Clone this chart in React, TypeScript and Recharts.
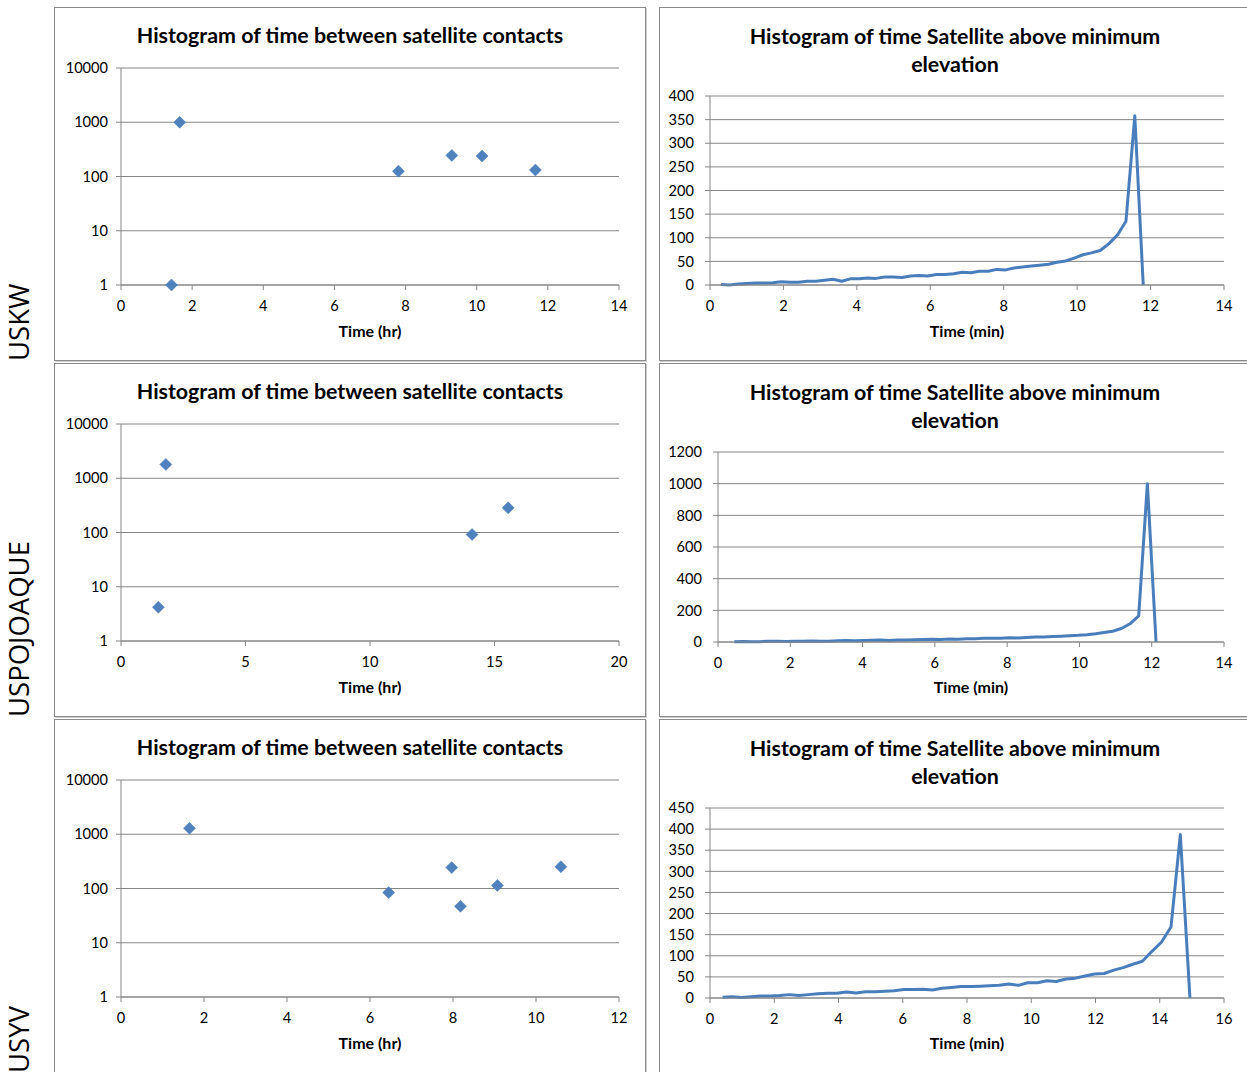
import React from 'react';
import { ScatterChart, Scatter, LineChart, Line, XAxis, YAxis, CartesianGrid } from 'recharts';

// ---------- data ----------
const stations = ['USKW', 'USPOJOAQUE', 'USYV'];

const uskwGapHr = [1.42, 1.65, 7.8, 9.3, 10.15, 11.65];
const uskwGapCount = [1, 1000, 125, 245, 238, 132];

const uspGapHr = [1.5, 1.8, 14.1, 15.55];
const uspGapCount = [4.2, 1800, 92, 285];

const usyvGapHr = [1.65, 6.45, 7.97, 8.18, 9.07, 10.6];
const usyvGapCount = [1290, 84, 243, 47, 114, 252];

const uskwElevMin = [0.30, 0.53, 0.77, 1.00, 1.24, 1.47, 1.71, 1.94, 2.18, 2.41, 2.65, 2.88, 3.12, 3.35, 3.59, 3.82, 4.06, 4.29, 4.52, 4.76, 4.99, 5.23, 5.46, 5.70, 5.93, 6.17, 6.40, 6.64, 6.87, 7.11, 7.34, 7.58, 7.81, 8.05, 8.28, 8.51, 8.75, 8.98, 9.22, 9.45, 9.69, 9.92, 10.16, 10.39, 10.63, 10.86, 11.10, 11.33, 11.57, 11.80];
const uskwElevCount = [1, 0, 2, 3, 4, 4, 5, 7, 6, 6, 8, 8, 10, 12, 8, 13, 13, 15, 14, 17, 17, 16, 19, 20, 19, 22, 22, 24, 27, 26, 29, 29, 33, 32, 36, 38, 40, 42, 44, 48, 51, 57, 64, 68, 73, 87, 106, 135, 358, 0];

const uspElevMin = [0.45, 0.69, 0.93, 1.16, 1.40, 1.64, 1.88, 2.12, 2.35, 2.59, 2.83, 3.07, 3.31, 3.54, 3.78, 4.02, 4.26, 4.50, 4.73, 4.97, 5.21, 5.45, 5.69, 5.92, 6.16, 6.40, 6.64, 6.88, 7.11, 7.35, 7.59, 7.83, 8.07, 8.30, 8.54, 8.78, 9.02, 9.26, 9.49, 9.73, 9.97, 10.21, 10.45, 10.68, 10.92, 11.16, 11.40, 11.64, 11.88, 12.12];
const uspElevCount = [2, 3, 1, 2, 4, 5, 3, 4, 5, 6, 5, 5, 8, 10, 8, 9, 11, 12, 10, 12, 12, 14, 16, 17, 16, 19, 18, 21, 20, 23, 24, 23, 27, 26, 28, 31, 32, 35, 37, 40, 42, 46, 52, 60, 68, 85, 115, 165, 1000, 0];

const usyvElevMin = [0.39, 0.69, 0.98, 1.28, 1.58, 1.87, 2.17, 2.47, 2.77, 3.06, 3.36, 3.66, 3.95, 4.25, 4.55, 4.84, 5.14, 5.44, 5.74, 6.03, 6.33, 6.63, 6.92, 7.22, 7.52, 7.81, 8.11, 8.41, 8.70, 9.00, 9.30, 9.60, 9.89, 10.19, 10.49, 10.78, 11.08, 11.38, 11.67, 11.97, 12.27, 12.57, 12.86, 13.16, 13.46, 13.75, 14.05, 14.35, 14.64, 14.94];
const usyvElevCount = [2, 3, 1, 3, 5, 5, 6, 8, 6, 8, 10, 11, 11, 14, 12, 15, 15, 16, 17, 20, 20, 21, 19, 23, 25, 27, 27, 28, 29, 30, 33, 30, 36, 36, 41, 39, 45, 47, 52, 57, 58, 66, 72, 80, 87, 110, 132, 168, 387, 0];

const logTicks = [1, 10, 100, 1000, 10000];
const gapXTicks = [
  [0, 2, 4, 6, 8, 10, 12, 14],
  [0, 5, 10, 15, 20],
  [0, 2, 4, 6, 8, 10, 12],
];
const elevXTicks = [
  [0, 2, 4, 6, 8, 10, 12, 14],
  [0, 2, 4, 6, 8, 10, 12, 14],
  [0, 2, 4, 6, 8, 10, 12, 14, 16],
];
const elevYTicks = [
  [0, 50, 100, 150, 200, 250, 300, 350, 400],
  [0, 200, 400, 600, 800, 1000, 1200],
  [0, 50, 100, 150, 200, 250, 300, 350, 400, 450],
];

const gapTitle = 'Histogram of time between satellite contacts';
const elevTitle1 = 'Histogram of time Satellite above minimum';
const elevTitle2 = 'elevation';
const gapAxisTitle = 'Time (hr)';
const elevAxisTitle = 'Time (min)';

const zip = (xs: number[], ys: number[]) => xs.map((x, i) => ({ x, y: ys[i] }));
const gapData = [zip(uskwGapHr, uskwGapCount), zip(uspGapHr, uspGapCount), zip(usyvGapHr, usyvGapCount)];
const elevData = [zip(uskwElevMin, uskwElevCount), zip(uspElevMin, uspElevCount), zip(usyvElevMin, usyvElevCount)];

// ---------- layout ----------
const W = 592;
const H = 354;
const colLeft = [54, 659];
const rowTop = [7, 363, 719];
const elevYAxisW = [51, 59, 51];
const GRID = '#868686';
const BLUE = '#4A7EBB';
const FONT = 'Lato, "Open Sans", sans-serif';

const tickStyle = { fill: '#000', fontSize: 14.6, fontFamily: FONT };

const Diamond = (props: any) => {
  const { cx, cy } = props;
  if (cx == null || cy == null) return null;
  const r = 6;
  return (
    <polygon
      points={`${cx},${cy - r} ${cx + r},${cy} ${cx},${cy + r} ${cx - r},${cy}`}
      fill="#4F81BD"
      stroke="#4A7EBB"
      strokeWidth={0.5}
    />
  );
};

const Panel = ({ left, top, children }: any) => (
  <div style={{ position: 'absolute', left, top, width: W, height: H, background: '#fff' }}>
    {children}
    <div
      style={{
        position: 'absolute', left: 0, top: 0, width: W, height: H, boxSizing: 'border-box',
        border: '1px solid #8a8a8a', boxShadow: '1px 1px 0 #cfcfcf', pointerEvents: 'none',
      }}
    />
  </div>
);

const TitleText = ({ lines, top }: any) => (
  <div style={{ position: 'absolute', left: 0, top, width: W, textAlign: 'center', fontFamily: FONT, fontWeight: 700, fontSize: 21.4, lineHeight: '28px', color: '#000', whiteSpace: 'nowrap' }}>
    {lines.map((l: string, i: number) => <div key={i}>{l}</div>)}
  </div>
);

const AxisTitle = ({ text, left, width }: any) => (
  <div style={{ position: 'absolute', left, width, top: 314, textAlign: 'center', fontFamily: FONT, fontWeight: 700, fontSize: 16, lineHeight: '20px', color: '#000' }}>
    {text}
  </div>
);

const GapChart = ({ row }: { row: number }) => {
  const ticks = gapXTicks[row];
  return (
    <Panel left={colLeft[0]} top={rowTop[row]}>
      <TitleText lines={[gapTitle]} top={14} />
      <div style={{ position: 'absolute', left: 0, top: 0 }}>
        <ScatterChart width={W} height={H} margin={{ top: 61, right: 27, bottom: 0, left: 0 }}>
          <CartesianGrid vertical={false} stroke={GRID} strokeWidth={1} />
          <XAxis
            type="number" dataKey="x" domain={[ticks[0], ticks[ticks.length - 1]]} ticks={ticks}
            height={76} tickSize={5} tickMargin={11} interval={0}
            axisLine={{ stroke: GRID }} tickLine={{ stroke: GRID }} tick={tickStyle}
          />
          <YAxis
            type="number" dataKey="y" scale="log" domain={[1, 10000]} ticks={logTicks}
            width={67} tickSize={5} tickMargin={8} interval={0}
            axisLine={{ stroke: GRID }} tickLine={{ stroke: GRID }} tick={tickStyle}
          />
          <Scatter data={gapData[row]} shape={Diamond} isAnimationActive={false} />
        </ScatterChart>
      </div>
      <AxisTitle text={gapAxisTitle} left={67} width={498} />
    </Panel>
  );
};

const ElevChart = ({ row }: { row: number }) => {
  const xt = elevXTicks[row];
  const yt = elevYTicks[row];
  const yw = elevYAxisW[row];
  return (
    <Panel left={colLeft[1]} top={rowTop[row]}>
      <TitleText lines={[elevTitle1, elevTitle2]} top={15} />
      <div style={{ position: 'absolute', left: 0, top: 0 }}>
        <LineChart data={elevData[row]} width={W} height={H} margin={{ top: 89, right: 27, bottom: 0, left: 0 }}>
          <CartesianGrid vertical={false} stroke={GRID} strokeWidth={1} />
          <XAxis
            type="number" dataKey="x" domain={[xt[0], xt[xt.length - 1]]} ticks={xt}
            height={row === 0 ? 76 : 75} tickSize={5} tickMargin={11} interval={0}
            axisLine={{ stroke: GRID }} tickLine={{ stroke: GRID }} tick={tickStyle}
          />
          <YAxis
            type="number" domain={[yt[0], yt[yt.length - 1]]} ticks={yt}
            width={yw} tickSize={5} tickMargin={11} interval={0}
            axisLine={{ stroke: GRID }} tickLine={{ stroke: GRID }} tick={tickStyle}
          />
          <Line
            type="linear" dataKey="y" stroke={BLUE} strokeWidth={3} dot={false}
            strokeLinejoin="round" isAnimationActive={false}
          />
        </LineChart>
      </div>
      <AxisTitle text={elevAxisTitle} left={yw} width={W - yw - 27} />
    </Panel>
  );
};

export default function App() {
  const rowBottom = rowTop.map((t) => t + H);
  return (
    <div style={{ position: 'absolute', left: 0, top: 0, width: 1247, height: 1072, overflow: 'hidden', background: '#fff', fontFamily: FONT }}>
      <svg width={54} height={1072} style={{ position: 'absolute', left: 0, top: 0 }}>
        {stations.map((s, i) => (
          <text
            key={s}
            x={29}
            y={rowBottom[i]}
            transform={`rotate(-90 29 ${rowBottom[i]})`}
            fontFamily='"Open Sans", sans-serif'
            fontSize={27.5}
            fill="#000"
          >
            {s}
          </text>
        ))}
      </svg>
      {[0, 1, 2].map((r) => <GapChart key={`g${r}`} row={r} />)}
      {[0, 1, 2].map((r) => <ElevChart key={`e${r}`} row={r} />)}
    </div>
  );
}
